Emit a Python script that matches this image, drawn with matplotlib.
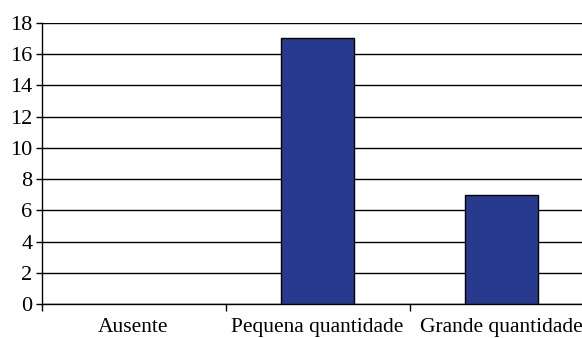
import numpy as np
import matplotlib.pyplot as plt

plt.rcParams['font.family'] = ['Liberation Serif', 'DejaVu Serif']

categories = ["Ausente", "Pequena quantidade", "Grande quantidade"]
values = [0, 17, 7]
yticks = list(range(0, 19, 2))

fig = plt.figure(figsize=(5.82, 3.38), dpi=100)
# right edge runs past the figure, like the cropped original
ax = fig.add_axes([41.5 / 582, 33.7 / 338, 552 / 582, 281.6 / 338])

xpos = np.arange(len(categories))
edges = ["black" if v > 0 else "none" for v in values]
ax.bar(xpos, values, width=0.40, color="#283a8e", edgecolor=edges,
       linewidth=1.0, zorder=3)

ax.set_xlim(-0.5, 2.5)
ax.set_ylim(0, 18)
ax.set_yticks(yticks)
ax.set_yticklabels([str(t) for t in yticks], fontsize=16)
ax.yaxis.grid(True, color="black", linewidth=1.0, zorder=0)

# category labels centred, tick marks on the category boundaries
ax.set_xticks(xpos)
ax.set_xticklabels(categories, fontsize=15.5)
ax.tick_params(axis="x", which="major", length=0, pad=10)
ax.set_xticks(np.arange(-0.5, 3, 1.0), minor=True)
ax.tick_params(axis="x", which="minor", length=5, width=1, color="black")
ax.tick_params(axis="y", length=4, width=1, pad=2.5)

for side in ["top", "right"]:
    ax.spines[side].set_visible(False)
ax.spines["left"].set_linewidth(1.0)
ax.spines["bottom"].set_linewidth(1.0)

fig.savefig("out.png", dpi=100)
